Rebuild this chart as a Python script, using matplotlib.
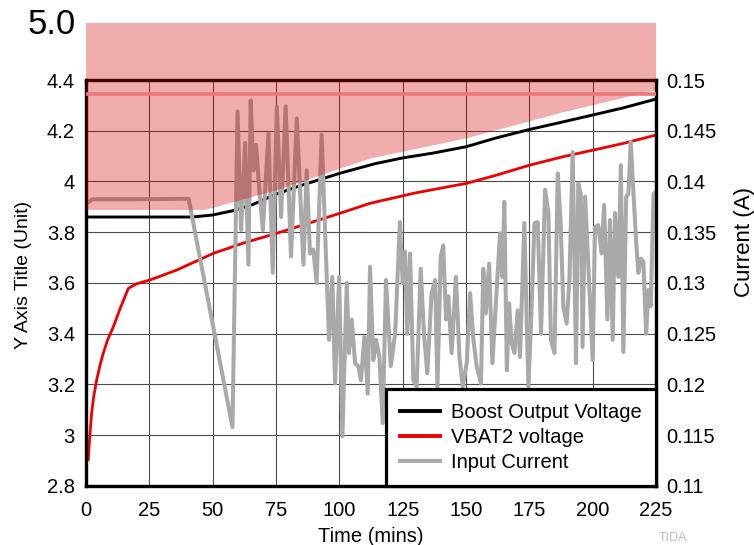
import numpy as np
import matplotlib.pyplot as plt
from matplotlib.ticker import FormatStrFormatter

plt.rcParams['font.family'] = ['Liberation Sans', 'DejaVu Sans']

# Boost output voltage (V, left axis)
t_boost = [0, 42, 50, 58, 66, 75, 85, 94, 100, 114, 125, 137, 150, 162, 175,
           187, 200, 212, 225]
v_boost = [3.86, 3.86, 3.868, 3.885, 3.91, 3.95, 3.985, 4.013, 4.032, 4.07,
           4.093, 4.112, 4.137, 4.172, 4.205, 4.232, 4.262, 4.29, 4.325]

# VBAT2 voltage (V, left axis)
t_vbat = [0.9, 1.5, 2.2, 3.0, 4.2, 5.5, 6.8, 8.5, 10.8, 13.5, 16.7, 20,
          25.3, 35.8, 50.3, 62, 75.3, 88, 100.3, 112.1, 130, 150.3, 162,
          175.3, 188, 200.3, 212, 225]
v_vbat = [2.903, 3.0, 3.087, 3.15, 3.218, 3.275, 3.323, 3.375, 3.428, 3.5,
          3.579, 3.597, 3.612, 3.651, 3.717, 3.757, 3.796, 3.836, 3.875,
          3.914, 3.955, 3.993, 4.025, 4.065, 4.097, 4.124, 4.15, 4.183]

# Input current (A, right axis)
t_cur = [0, 2.5, 20, 40.5, 57.8, 59.8, 61.2, 62.8, 64.1, 65.0, 66.1, 67.1,
         68.4, 69.8, 72.0, 73.7, 75.3, 77, 78.8, 80.9, 83.2, 85.8, 87.1,
         88.4, 89.7, 91, 93, 95.9, 97.2, 98.3, 99.9, 101.2, 102.9, 103.8,
         104.9, 106.2, 107.5, 108.5, 109.9, 111.2, 112.1, 113.4, 114.5,
         115.8, 117.1, 118.4, 120.3, 122, 123.9, 125, 125.9, 126.8, 127.9,
         129.2, 130.5, 132.1, 133.4, 134.7, 136.4, 137.8, 138.7, 140, 141,
         142.1, 143, 144.3, 146, 147.4, 148.7, 150.3, 151.6, 152.9, 154.2,
         155.9, 156.8, 157.8, 159.1, 160.4, 161.7, 163.4, 164.3, 165.1,
         166.1, 167, 168, 169.1, 170.4, 171.3, 173, 174.6, 175.7, 177,
         178.3, 179.6, 181.2, 182.5, 183.5, 184.9, 186.2, 187.3, 188.4,
         189.7, 190.8, 192.1, 193.4, 194.3, 195.3, 196, 197, 198.3, 200,
         200.9, 202.2, 203.5, 204.5, 205.8, 206.8, 207.9, 208.8, 210.1,
         211.1, 212.1, 213.2, 214.1, 215, 216, 217.1, 218, 219, 220, 221.1,
         222, 222.9, 224, 225]
i_cur = [0.1378, 0.13825, 0.13825, 0.1383, 0.1158, 0.1469, 0.1352, 0.1438,
         0.1318, 0.148, 0.1411, 0.1436, 0.1392, 0.1352, 0.1447, 0.131,
         0.1474, 0.1365, 0.1474, 0.1326, 0.1462, 0.1318, 0.1411, 0.1329,
         0.1333, 0.13, 0.1446, 0.1244, 0.1306, 0.1201, 0.1306, 0.1149,
         0.13, 0.1231, 0.1264, 0.1221, 0.1218, 0.1204, 0.1247, 0.1191,
         0.1316, 0.1224, 0.1244, 0.1227, 0.1162, 0.1303, 0.1218, 0.125,
         0.136, 0.13, 0.1331, 0.125, 0.1329, 0.1204, 0.1198, 0.1314, 0.125,
         0.1211, 0.129, 0.1303, 0.1198, 0.1326, 0.1337, 0.1264, 0.1287,
         0.1231, 0.1306, 0.1227, 0.1198, 0.1222, 0.129, 0.1244, 0.1218,
         0.1201, 0.1314, 0.127, 0.1319, 0.1221, 0.1277, 0.1349, 0.1306,
         0.138, 0.1214, 0.128, 0.1241, 0.1231, 0.1273, 0.1227, 0.1359,
         0.1198, 0.1264, 0.1359, 0.136, 0.125, 0.1392, 0.1369, 0.1244,
         0.1231, 0.1408, 0.1362, 0.1277, 0.126, 0.1303, 0.1429, 0.1221,
         0.1398, 0.1388, 0.1237, 0.1385, 0.1316, 0.1224, 0.1355, 0.1357,
         0.1329, 0.1377, 0.1264, 0.1362, 0.1244, 0.1369, 0.1306, 0.1416,
         0.1232, 0.1385, 0.1388, 0.1439, 0.1392, 0.1342, 0.131, 0.1324,
         0.1321, 0.125, 0.1293, 0.1277, 0.1388, 0.139]

# shaded limit region (left axis units)
t_band = [0, 47, 75, 112, 150, 188, 225]
v_band = [3.888, 3.888, 3.965, 4.09, 4.17, 4.272, 4.36]
band_top = 4.625
limit_line = 4.345

fig = plt.figure(figsize=(7.54, 5.45), dpi=100)
ax = fig.add_axes([0.1141, 0.1083, 0.7560, 0.7449])
ax2 = ax.twinx()

ax.plot(t_boost, v_boost, color='black', lw=2.1, label='Boost Output Voltage')
ax.plot(t_vbat, v_vbat, color='#ee0000', lw=2.0, label='VBAT2 voltage')
ax2.plot(t_cur, i_cur, color='#a9a9a9', lw=2.9, label='Input Current')

ax.set_xlim(0, 225)
ax.set_ylim(2.8, 4.4)
ax2.set_ylim(0.11, 0.15)
ax.set_xticks(np.arange(0, 226, 25))
ax.set_yticks(np.arange(2.8, 4.41, 0.2))
ax2.set_yticks(np.arange(0.11, 0.1501, 0.005))
ax.yaxis.set_major_formatter(FormatStrFormatter('%g'))
ax2.yaxis.set_major_formatter(FormatStrFormatter('%g'))
ax.grid(True, color='#4d4d4d', lw=0.8)

for a in (ax, ax2):
    for s in a.spines.values():
        s.set_linewidth(2.3)
        s.set_color('black')
    a.tick_params(length=0, labelsize=14.5)
ax.tick_params(axis='x', pad=11)
ax.tick_params(axis='y', pad=8)
ax2.tick_params(axis='y', pad=7)

# pink shaded region on top of everything
poly_t = t_band + [225, 0]
poly_v = v_band + [band_top, band_top]
ax2.fill(poly_t, poly_v, color='#d60000', alpha=0.32, lw=0,
         transform=ax.transData, clip_on=False, zorder=5)
ax2.plot([0, 225], [limit_line, limit_line], color='#ee7777', lw=2.6,
         transform=ax.transData, zorder=6)

ax.set_xlabel('Time (mins)', fontsize=14.5, labelpad=5)
fig.text(0.031, 1 - 275 / 545, 'Y Axis Title (Unit)', rotation=90,
         fontsize=14, ha='center', va='center')
fig.text(0.988, 1 - 242 / 545, 'Current (A)', rotation=90,
         fontsize=16, ha='center', va='center')
fig.text(0.068, 1 - 24 / 545, '5.0', fontsize=25, ha='center', va='center')
fig.text(0.893, 0.002, 'TIDA', fontsize=9, color='#c0c0c0',
         ha='center', va='bottom')

h1, l1 = ax.get_legend_handles_labels()
h2, l2 = ax2.get_legend_handles_labels()
leg = ax2.legend(h1 + h2, l1 + l2, loc='lower right', bbox_to_anchor=(1, 0),
                 borderaxespad=0, fontsize=14.5, fancybox=False,
                 framealpha=1, edgecolor='black', handlelength=2.0,
                 handletextpad=0.55, labelspacing=0.3, borderpad=0.7)
leg.get_frame().set_linewidth(2.3)
for line in leg.get_lines():
    line.set_linewidth(2.8)
leg.set_zorder(10)

fig.savefig('out.png', dpi=100)
